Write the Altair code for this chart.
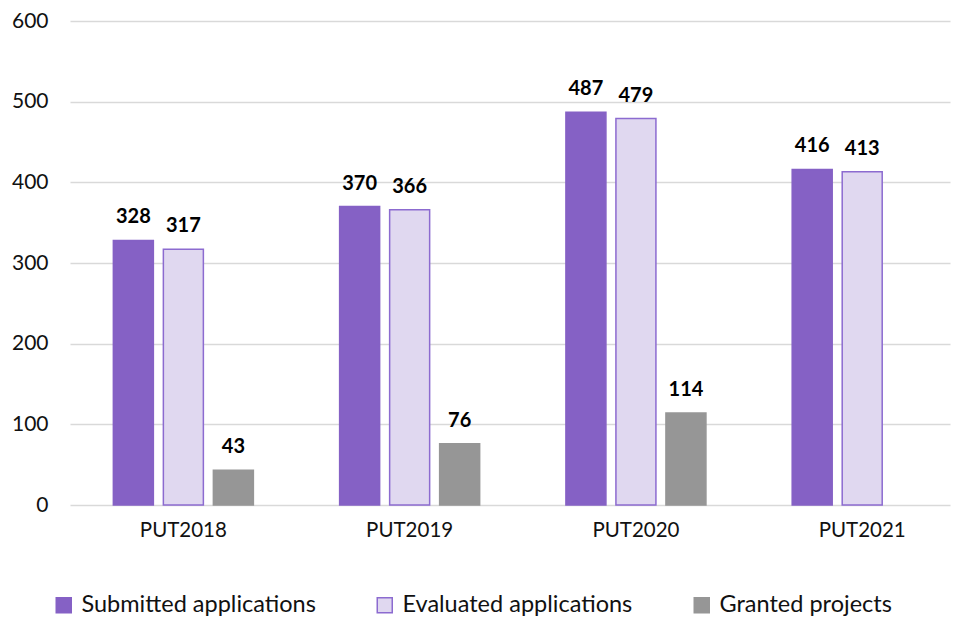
import altair as alt
import pandas as pd

categories = ["PUT2018", "PUT2019", "PUT2020", "PUT2021"]
series_names = ["Submitted applications", "Evaluated applications", "Granted projects"]
submitted = [328, 370, 487, 416]
evaluated = [317, 366, 479, 413]
granted = [43, 76, 114, None]
y_ticks = [0, 100, 200, 300, 400, 500, 600]

fill_colors = ["#8561C5", "#E0D8F0", "#969696"]
stroke_colors = ["#8561C5", "#8C6BD0", "#969696"]

rows = []
for vals, name in zip([submitted, evaluated, granted], series_names):
    for cat, v in zip(categories, vals):
        if v is not None:
            rows.append({"year": cat, "series": name, "value": v})
df = pd.DataFrame(rows)

FONT = "Lato"

legend = alt.Legend(
    orient="none", legendX=-18, legendY=572, direction="horizontal", title=None,
    symbolType="square", symbolSize=225, symbolStrokeWidth=1.5,
    labelFontSize=23.5, labelFont=FONT, labelColor="#111111", labelLimit=400,
    columnPadding=57, labelOffset=6,
)

x = alt.X("year:N", sort=categories,
          scale=alt.Scale(paddingInner=0.337, paddingOuter=0.113, align=0.75),
          axis=alt.Axis(title=None, labelAngle=0, labelFontSize=20.5, labelFont=FONT,
                        labelColor="#111111", domain=False, ticks=False, grid=False,
                        labelPadding=15))
xoff = alt.XOffset("series:N", sort=series_names,
                   scale=alt.Scale(domain=series_names, paddingInner=0.2, paddingOuter=0.1))
y = alt.Y("value:Q", scale=alt.Scale(domain=[0, 600], nice=False),
          axis=alt.Axis(values=y_ticks, title=None, domain=False, ticks=False,
                        gridColor="#D9D9D9", gridWidth=1.5, labelFontSize=21,
                        labelFont=FONT, labelColor="#111111", labelPadding=22))

bars = alt.Chart(df).mark_bar(strokeWidth=1.5).encode(
    x=x, xOffset=xoff, y=y,
    fill=alt.Fill("series:N", sort=series_names,
                  scale=alt.Scale(domain=series_names, range=fill_colors), legend=legend),
    stroke=alt.Stroke("series:N", sort=series_names,
                      scale=alt.Scale(domain=series_names, range=stroke_colors), legend=legend),
)

labels = alt.Chart(df).mark_text(fontWeight="bold", fontSize=20, font=FONT, dy=-17,
                                 baseline="alphabetic", color="#000000").encode(
    x=x, xOffset=xoff, y=y, text=alt.Text("value:Q"),
)

chart = alt.layer(bars, labels).properties(
    width=880, height=484, autosize="none",
    padding={"left": 62, "top": 13, "right": 3, "bottom": 116},
).configure(font=FONT).configure_view(stroke=None)

chart.save("out.html", embed_options={"renderer": "svg", "actions": False})
